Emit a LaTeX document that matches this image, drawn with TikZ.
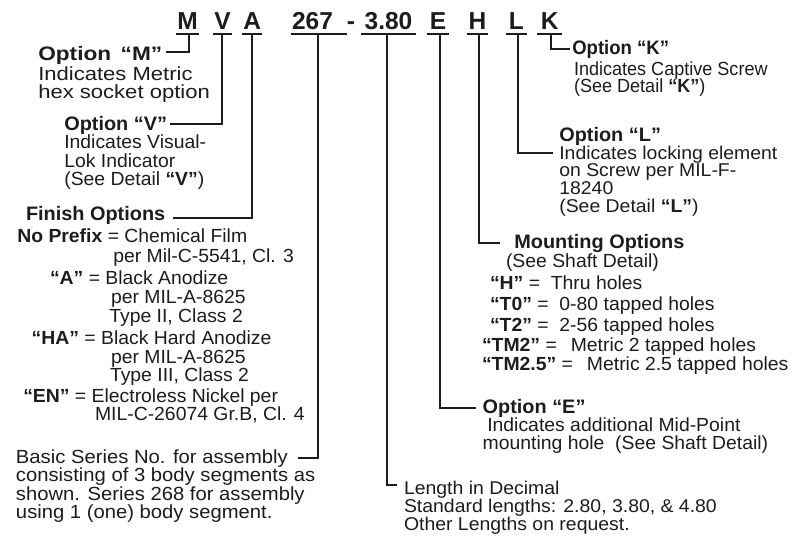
\documentclass[tikz,border=0pt]{standalone}
\usepackage{fontspec}
\setmainfont[FakeStretch=1.02]{Liberation Sans}
\newfontfamily\fM[FakeStretch=1.16]{Liberation Sans}
\newfontfamily\fK[FakeStretch=0.95]{Liberation Sans}
\newfontfamily\fB[FakeStretch=1.065]{Liberation Sans}
\newfontfamily\fL[FakeStretch=1.05]{Liberation Sans}
\newfontfamily\fH{Liberation Sans}
\definecolor{ink}{RGB}{30,27,28}
\begin{document}
\begin{tikzpicture}[x=1pt,y=-1pt,
  every node/.style={inner sep=0pt, outer sep=0pt, text=ink, anchor=base west},
  txt/.style={font=\fontsize{19}{19}\selectfont},
  txs/.style={font=\fontsize{18.5}{18.5}\selectfont\fL},
  hd/.style={font=\fontsize{19.5}{19.5}\selectfont\bfseries},
  big/.style={font=\fontsize{24.5}{25}\selectfont\fH\bfseries, anchor=base},
  ln/.style={draw=ink, line width=2pt}]
\useasboundingbox (0,0) rectangle (799,535);

% ---- header code letters
\node[big] (hM) at (187.5,30) {M};
\node[big] (hV) at (222.5,30) {V};
\node[big] (hA) at (252.3,30) {A};
\node[big] (h267) at (312.5,30) {267};
\node[big] (hdash) at (351,30) {-};
\node[big] (h380) at (388.5,30) {3.80};
\node[big] (hE) at (438,30) {E};
\node[big] (hH) at (477.5,30) {H};
\node[big] (hL) at (516.3,30) {L};
\node[big] (hK) at (549.8,30) {K};

% ---- underlines and connector start points
\foreach \n/\a/\b/\c in {M/175.7/199.3/189.3, V/212.7/232.3/222.3, A/242.3/262.3/252.3,
  S/290.7/346.7/318.3, D/360.7/416/386.7, E/426.7/449.3/440, H/466.7/488.3/479,
  L/506/526.7/518.3, K/537.3/562.3/551}{
  \coordinate (ul\n) at (\a,34.5);
  \coordinate (ur\n) at (\b,34.5);
  \coordinate (uc\n) at (\c,34.5);
  \draw[ln] (ul\n) -- (ur\n);
}

% ---- connector ends
\coordinate (eM) at (166,51.7);
\coordinate (eV) at (170,124.3);
\coordinate (eA) at (173.3,217.7);
\coordinate (eS) at (297.7,458.3);
\coordinate (eD) at (397,485);
\coordinate (eE) at (476,407.7);
\coordinate (eH) at (500,242.7);
\coordinate (eL) at (553.3,153.3);
\coordinate (eK) at (570,49.3);
\foreach \n in {M,V,A,S,D,E,H,L,K}{\draw[ln] (uc\n) |- (e\n);}

% ---- Option M
\node[hd] (optM) at (38.3,60) {\fM Option\, “M”};
\node[txt] (m1) at (38.3,80) {\fM Indicates Metric};
\node[txt] (m2) at (38.3,98.3) {\fM hex socket option};

% ---- Option V
\node[hd] (optV) at (64.3,130) {Option “V”};
\node[txt] (v1) at (64.3,148.5) {Indicates Visual-};
\node[txt] (v2) at (64.3,167) {Lok Indicator};
\node[txt] (v3) at (64.3,185.5) {(See Detail \textbf{“V”})};

% ---- Finish options
\node[hd] (fin) at (26,220) {Finish Options};
\node[txt] (f1) at (17.3,242) {\textbf{No Prefix} = Chemical Film};
\node[txt] (f2) at (113.3,262.5) {per Mil-C-5541, Cl. 3};
\node[txt] (f3) at (50,284) {\textbf{“A”} = Black Anodize};
\node[txt] (f4) at (111,303) {per MIL-A-8625};
\node[txt] (f5) at (109.3,322) {Type II, Class 2};
\node[txt] (f6) at (31.7,344) {\textbf{“HA”} = Black Hard Anodize};
\node[txt] (f7) at (111,363) {per MIL-A-8625};
\node[txt] (f8) at (110,381) {Type III, Class 2};
\node[txt] (f9) at (23.3,402.5) {\textbf{“EN”} = Electroless Nickel per};
\node[txt] (f10) at (95,420) {MIL-C-26074 Gr.B, Cl. 4};

% ---- Basic series
\node[txt] (b1) at (16,463.3) {\fB Basic Series No. for assembly};
\node[txt] (b2) at (16,481.7) {\fB consisting of 3 body segments as};
\node[txt] (b3) at (16,500) {\fB shown. Series 268 for assembly};
\node[txt] (b4) at (16,518.3) {\fB using 1 (one) body segment.};

% ---- Length
\node[txs] (len1) at (404,494.5) {Length in Decimal};
\node[txs] (len2) at (404,512.5) {Standard lengths: 2.80, 3.80, \& 4.80};
\node[txs] (len3) at (404,530.5) {Other Lengths on request.};

% ---- Option E
\node[hd] (optE) at (482.7,413.3) {Option “E”};
\node[txt] (e1) at (487.3,431.7) {Indicates additional Mid-Point};
\node[txt] (e2) at (482.7,449.3) {mounting hole~ (See Shaft Detail)};

% ---- Mounting options
\node[hd] (mnt) at (514.3,248.3) {Mounting Options};
\node[txt] (mnt1) at (506,267) {(See Shaft Detail)};
\node[txt] (t1) at (490,289) {\textbf{“H”} = \ Thru holes};
\node[txt] (t2) at (490,310) {\textbf{“T0”} = \ 0-80 tapped holes};
\node[txt] (t3) at (490,331) {\textbf{“T2”} = \ 2-56 tapped holes};
\node[txt] (t4) at (482,351) {\textbf{“TM2”} = \ \,Metric 2 tapped holes};
\node[txt] (t5) at (482,370) {\textbf{“TM2.5”} = \ \,Metric 2.5 tapped holes};

% ---- Option L
\node[hd] (optL) at (559.3,141.5) {Option “L”};
\node[txs] (l1) at (559.3,159) {Indicates locking element};
\node[txs] (l2) at (559.3,176.8) {on Screw per MIL-F-};
\node[txs] (l3) at (559.3,194.5) {18240};
\node[txs] (l4) at (559.3,212) {(See Detail \textbf{“L”})};

% ---- Option K
\node[hd] (optK) at (572.3,55) {\fK Option “K”};
\node[txt] (k1) at (574,75) {\fK Indicates Captive Screw};
\node[txt] (k2) at (574,92.5) {\fK (See Detail \textbf{“K”})};
\end{tikzpicture}
\end{document}
